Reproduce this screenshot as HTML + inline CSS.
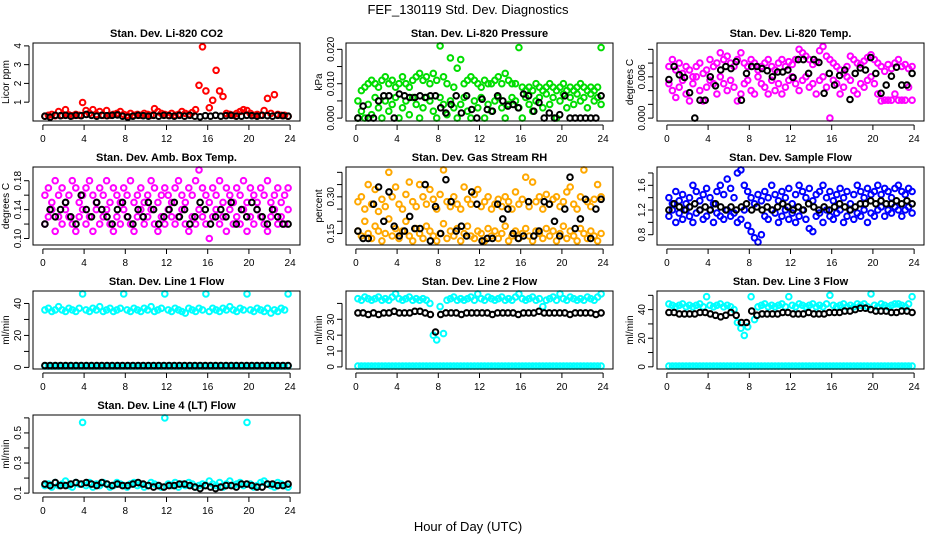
<!DOCTYPE html>
<html><head><meta charset="utf-8"><style>
html,body{margin:0;padding:0;background:#fff;}
svg{display:block;font-family:"Liberation Sans",sans-serif;}
</style></head><body>
<svg id="chart" width="936" height="540" viewBox="0 0 936 540">
<text x="468" y="14" text-anchor="middle" font-size="13">FEF_130119  Std. Dev. Diagnostics</text>
<text x="468" y="531" text-anchor="middle" font-size="13">Hour of Day (UTC)</text>
</svg>
<script>
const xTicks=[0,4,8,12,16,20,24];
const p1Red=[0.25,0.3,0.35,0.28,0.5,0.3,0.6,0.32,0.28,0.35,0.3,0.98,0.55,0.4,0.6,0.35,0.5,0.3,0.55,0.3,0.35,0.4,0.5,0.35,0.3,0.4,0.3,0.35,0.3,0.4,0.35,0.3,0.65,0.5,0.4,0.35,0.3,0.4,0.3,0.35,0.5,0.4,0.35,0.45,0.6,1.9,3.95,1.6,0.7,1.1,2.7,1.6,1.3,0.4,0.35,0.3,0.4,0.5,0.6,0.55,0.4,0.3,0.35,0.3,0.55,1.2,0.4,1.4,0.35,0.3,0.3,0.25];
const p1Black=[0.25,0.2,0.3,0.28,0.3,0.25,0.3,0.28,0.35,0.3,0.25,0.3,0.28,0.3,0.32,0.25,0.2,0.25,0.3,0.28,0.25,0.3,0.25,0.3,0.28,0.25,0.3,0.25,0.3,0.25,0.22,0.28,0.25,0.3,0.25,0.28,0.3,0.25,0.25,0.3,0.28,0.25,0.3,0.28,0.25,0.3,0.28,0.25];
const p2GreenA=[0.005,0.008,0.009,0.01,0.011,0.01,0.009,0.011,0.012,0.01,0.011,0.009,0.01,0.012,0.01,0.009,0.011,0.012,0.013,0.011,0.012,0.01,0.013,0.011,0.021,0.012,0.01,0.0175,0.009,0.0145,0.017,0.01,0.011,0.012,0.011,0.01,0.009,0.011,0.01,0.01,0.011,0.012,0.01,0.013,0.011,0.01,0.01,0.0205,0.009,0.008,0.009,0.008,0.01,0.009,0.008,0.009,0.01,0.009,0.008,0.009,0.01,0.008,0.009,0.008,0.009,0.01,0.009,0.008,0.009,0.008,0.009,0.0205];
const p2GreenB=[0,0.002,0,0.004,0.001,0.006,0.003,0,0.005,0.002,0.004,0.006,0,0.003,0.005,0.001,0.006,0.004,0,0.003,0.006,0.005,0.002,0,0.006,0.004,0.001,0.005,0.003,0,0.004,0.006,0.002,0,0.005,0.003,0.006,0,0.004,0.002,0.005,0.006,0.003,0,0.004,0.006,0.005,0.003,0,0.006,0.004,0.002,0.005,0.006,0.003,0.007,0.004,0.006,0,0.005,0.007,0.003,0.006,0.004,0.007,0.005,0.006,0.003,0.007,0.005,0.006,0.004];
const p2Black=[0,0.0035,0,0,0.005,0.0065,0.0065,0,0.007,0.0065,0.006,0.006,0.0065,0.006,0.0065,0.0065,0.003,0.0015,0.004,0.0065,0.0015,0.0065,0.0025,0,0.0055,0.0025,0.002,0.0065,0.005,0.0035,0.004,0.003,0.007,0.0065,0.002,0.0045,0,0.0015,0,0.001,0.0065,0,0,0,0,0,0,0.0065];
const p3MagA=[0.0075,0.0085,0.007,0.008,0.0065,0.0075,0.007,0.006,0.0075,0.008,0.0065,0.007,0.0085,0.0075,0.008,0.0095,0.0085,0.009,0.008,0.0075,0.0085,0.0095,0.008,0.0075,0.0085,0.008,0.007,0.0075,0.008,0.0085,0.0075,0.007,0.008,0.0085,0.0075,0.0082,0.0078,0.0085,0.01,0.0095,0.009,0.0085,0.0078,0.0082,0.0098,0.0104,0.009,0.0085,0.008,0.0075,0.007,0.0065,0.0075,0.009,0.0085,0.008,0.0078,0.0083,0.0088,0.0092,0.0085,0.008,0.0075,0.0068,0.0078,0.0072,0.008,0.0085,0.0075,0.0078,0.0072,0.0075];
const p3MagB=[0.005,0.004,0.003,0.0045,0.0055,0.0035,0.0025,0.005,0.006,0.004,0.0025,0.0045,0.0055,0.005,0.0035,0.006,0.005,0.004,0.0055,0.0045,0.0025,0.0035,0.005,0.0055,0.004,0.0035,0.006,0.005,0.0045,0.0035,0.0055,0.004,0.005,0.0035,0.0045,0.0055,0.006,0.005,0.004,0.0055,0.006,0.0045,0.005,0.0035,0.0055,0.006,0.0045,0,0.0055,0.005,0.0035,0.0045,0.006,0.0055,0.004,0.0035,0.005,0.0045,0.0055,0.006,0.005,0.0035,0.0025,0.0026,0.0026,0.0026,0.0035,0.0026,0.0026,0.0026,0.0045,0.0026];
const p3Black=[0.0056,0.0075,0.0063,0.0059,0.0037,0,0.0026,0.0026,0.006,0.0047,0.007,0.0075,0.0072,0.0082,0.0026,0.0065,0.0075,0.0075,0.0072,0.0069,0.006,0.0067,0.0067,0.007,0.0059,0.0085,0.0085,0.0065,0.0085,0.0081,0.0036,0.0065,0.0048,0.0062,0.007,0.0027,0.0065,0.0073,0.007,0.0088,0.0065,0.0036,0.0048,0.0061,0.0074,0.0048,0.0048,0.0065];
const p4MagA=[0.16,0.17,0.15,0.18,0.16,0.17,0.15,0.16,0.18,0.17,0.15,0.16,0.17,0.18,0.16,0.15,0.17,0.16,0.18,0.15,0.17,0.16,0.15,0.17,0.16,0.18,0.15,0.16,0.17,0.15,0.16,0.18,0.17,0.15,0.16,0.17,0.16,0.15,0.17,0.18,0.16,0.15,0.17,0.16,0.18,0.195,0.17,0.16,0.15,0.17,0.16,0.18,0.15,0.17,0.16,0.15,0.17,0.16,0.18,0.15,0.17,0.16,0.15,0.17,0.16,0.18,0.15,0.16,0.17,0.15,0.16,0.17];
const p4MagB=[0.12,0.13,0.14,0.11,0.13,0.12,0.14,0.13,0.12,0.11,0.13,0.14,0.12,0.13,0.11,0.14,0.12,0.13,0.14,0.12,0.11,0.13,0.12,0.14,0.13,0.12,0.11,0.13,0.14,0.12,0.13,0.14,0.12,0.11,0.13,0.12,0.14,0.13,0.12,0.13,0.14,0.12,0.11,0.13,0.12,0.14,0.13,0.12,0.1,0.13,0.14,0.12,0.13,0.11,0.14,0.12,0.13,0.12,0.14,0.11,0.13,0.12,0.14,0.13,0.12,0.11,0.13,0.14,0.12,0.13,0.12,0.14];
const p4Black=[0.12,0.14,0.13,0.14,0.15,0.13,0.12,0.16,0.14,0.13,0.15,0.14,0.13,0.12,0.14,0.15,0.13,0.12,0.14,0.13,0.15,0.14,0.12,0.13,0.14,0.15,0.13,0.14,0.12,0.13,0.15,0.14,0.12,0.13,0.14,0.13,0.15,0.12,0.14,0.13,0.15,0.14,0.13,0.12,0.14,0.13,0.12,0.12];
const p5OrgA=[0.28,0.3,0.25,0.35,0.27,0.33,0.24,0.29,0.26,0.4,0.3,0.34,0.27,0.25,0.31,0.36,0.28,0.26,0.35,0.3,0.27,0.33,0.29,0.25,0.31,0.41,0.28,0.26,0.3,0.27,0.25,0.34,0.29,0.27,0.31,0.33,0.26,0.28,0.3,0.25,0.27,0.29,0.26,0.3,0.28,0.25,0.32,0.27,0.29,0.38,0.26,0.36,0.28,0.3,0.25,0.31,0.27,0.29,0.3,0.26,0.28,0.32,0.34,0.27,0.25,0.3,0.41,0.28,0.26,0.29,0.35,0.3];
const p5OrgB=[0.16,0.14,0.2,0.15,0.13,0.18,0.16,0.12,0.15,0.21,0.14,0.17,0.13,0.16,0.2,0.14,0.12,0.17,0.15,0.13,0.18,0.16,0.14,0.12,0.15,0.19,0.13,0.16,0.14,0.17,0.12,0.15,0.18,0.14,0.13,0.16,0.15,0.12,0.17,0.14,0.16,0.13,0.15,0.18,0.12,0.14,0.16,0.13,0.15,0.17,0.14,0.12,0.16,0.15,0.13,0.17,0.14,0.16,0.12,0.15,0.18,0.13,0.16,0.14,0.12,0.17,0.15,0.13,0.16,0.14,0.12,0.15];
const p5Black=[0.16,0.13,0.13,0.27,0.34,0.2,0.32,0.18,0.14,0.16,0.22,0.17,0.17,0.35,0.12,0.26,0.15,0.37,0.28,0.16,0.18,0.14,0.32,0.27,0.12,0.13,0.13,0.27,0.21,0.25,0.15,0.13,0.14,0.28,0.14,0.16,0.28,0.27,0.2,0.14,0.25,0.38,0.17,0.21,0.29,0.13,0.25,0.29];
const p6BlueA=[1.4,1.3,1.5,1.35,1.45,1.3,1.4,1.6,1.5,1.35,1.45,1.55,1.4,1.3,1.5,1.6,1.45,1.7,1.55,1.4,1.8,1.85,1.6,1.5,1.4,1.3,1.45,1.35,1.5,1.4,1.6,1.45,1.35,1.5,1.4,1.55,1.3,1.45,1.6,1.5,1.4,1.55,1.35,1.45,1.5,1.6,1.4,1.5,1.35,1.45,1.55,1.4,1.5,1.3,1.45,1.6,1.5,1.4,1.55,1.45,1.5,1.6,1.45,1.55,1.5,1.4,1.55,1.6,1.5,1.45,1.55,1.5];
const p6BlueB=[1.1,1.2,1.0,1.15,1.05,1.2,1.1,1.0,1.15,1.2,1.05,1.1,1.2,1.0,1.15,1.1,1.05,1.2,1.1,1.15,1.0,1.05,1.2,0.95,0.85,0.75,0.68,0.8,1.1,1.05,1.2,1.15,1.0,1.1,1.2,1.05,1.15,1.0,1.1,1.2,1.05,0.9,0.85,1.1,1.15,1.0,1.2,1.1,1.05,1.15,1.2,1.0,1.1,1.2,1.05,1.15,1.1,1.2,1.0,1.15,1.1,1.2,1.25,1.1,1.2,1.15,1.25,1.2,1.1,1.2,1.25,1.15];
const p6Black=[1.2,1.3,1.25,1.2,1.25,1.3,1.2,1.25,1.2,1.3,1.25,1.2,1.25,1.2,1.25,1.3,1.2,1.25,1.2,1.25,1.2,1.25,1.3,1.25,1.2,1.25,1.2,1.3,1.25,1.2,1.25,1.2,1.25,1.3,1.25,1.2,1.25,1.3,1.3,1.35,1.3,1.35,1.3,1.3,1.35,1.3,1.35,1.3];
const p7CyanA=[36,37,35,36,38,36,35,37,36,35,37,46,36,35,37,36,38,35,36,37,35,36,37,46,36,35,37,36,35,37,36,38,35,36,37,46,36,35,37,36,35,34,37,36,35,37,36,46,35,37,36,35,37,36,38,36,35,37,36,46,36,35,37,36,35,37,34,36,35,37,36,46];
const p7CyanB=[0.8,0.8,0.8,0.8,0.8,0.8,0.8,0.8,0.8,0.8,0.8,0.8,0.8,0.8,0.8,0.8,0.8,0.8,0.8,0.8,0.8,0.8,0.8,0.8,0.8,0.8,0.8,0.8,0.8,0.8,0.8,0.8,0.8,0.8,0.8,0.8,0.8,0.8,0.8,0.8,0.8,0.8,0.8,0.8,0.8,0.8,0.8,0.8,0.8,0.8,0.8,0.8,0.8,0.8,0.8,0.8,0.8,0.8,0.8,0.8,0.8,0.8,0.8,0.8,0.8,0.8,0.8,0.8,0.8,0.8,0.8,0.8];
const p7Black=[1.2,1.2,1.2,1.2,1.2,1.2,1.2,1.2,1.2,1.2,1.2,1.2,1.2,1.2,1.2,1.2,1.2,1.2,1.2,1.2,1.2,1.2,1.2,1.2,1.2,1.2,1.2,1.2,1.2,1.2,1.2,1.2,1.2,1.2,1.2,1.2,1.2,1.2,1.2,1.2,1.2,1.2,1.2,1.2,1.2,1.2,1.2,1.2];
const p8CyanA=[43,42,44,43,42,43,44,42,43,42,44,46,43,42,43,44,42,43,42,43,42,40,20,17,38,21,42,43,44,42,43,42,43,44,42,46,43,42,44,43,42,43,44,42,43,42,44,46,43,42,43,44,42,43,38,42,43,44,42,46,43,42,44,43,42,43,42,44,43,42,44,46];
const p8CyanB=[0.5,0.5,0.5,0.5,0.5,0.5,0.5,0.5,0.5,0.5,0.5,0.5,0.5,0.5,0.5,0.5,0.5,0.5,0.5,0.5,0.5,0.5,0.5,0.5,0.5,0.5,0.5,0.5,0.5,0.5,0.5,0.5,0.5,0.5,0.5,0.5,0.5,0.5,0.5,0.5,0.5,0.5,0.5,0.5,0.5,0.5,0.5,0.5,0.5,0.5,0.5,0.5,0.5,0.5,0.5,0.5,0.5,0.5,0.5,0.5,0.5,0.5,0.5,0.5,0.5,0.5,0.5,0.5,0.5,0.5,0.5,0.5];
const p8Black=[34,34,33,34,33,34,34,35,34,34,34,35,35,34,33,22,33,34,34,34,33,34,34,34,34,34,33,34,34,34,34,33,34,34,34,35,34,34,34,34,34,33,34,34,34,34,33,34];
const p9CyanA=[44,43,42,43,44,42,43,42,43,44,42,49,43,42,43,44,42,43,42,40,31,27,22,28,49,33,42,43,44,42,43,42,43,44,42,49,43,42,44,43,42,43,44,42,43,42,44,50,43,42,43,44,42,43,42,44,43,44,42,51,43,42,44,43,42,43,44,44,43,42,44,49];
const p9CyanB=[0.5,0.5,0.5,0.5,0.5,0.5,0.5,0.5,0.5,0.5,0.5,0.5,0.5,0.5,0.5,0.5,0.5,0.5,0.5,0.5,0.5,0.5,0.5,0.5,0.5,0.5,0.5,0.5,0.5,0.5,0.5,0.5,0.5,0.5,0.5,0.5,0.5,0.5,0.5,0.5,0.5,0.5,0.5,0.5,0.5,0.5,0.5,0.5,0.5,0.5,0.5,0.5,0.5,0.5,0.5,0.5,0.5,0.5,0.5,0.5,0.5,0.5,0.5,0.5,0.5,0.5,0.5,0.5,0.5,0.5,0.5,0.5];
const p9Black=[38,38,37,37,37,37,38,38,37,36,35,36,38,36,31,31,39,36,37,37,37,37,38,38,37,37,37,38,37,37,37,38,38,38,39,39,40,41,41,40,39,39,39,38,38,39,39,38];
const p10CyanA=[0.15,0.16,0.14,0.17,0.15,0.16,0.18,0.15,0.14,0.17,0.16,0.57,0.15,0.17,0.14,0.16,0.15,0.17,0.16,0.14,0.15,0.17,0.16,0.15,0.14,0.16,0.17,0.15,0.16,0.14,0.15,0.17,0.16,0.15,0.14,0.6,0.16,0.15,0.17,0.14,0.16,0.15,0.17,0.16,0.14,0.15,0.16,0.15,0.18,0.16,0.15,0.17,0.14,0.16,0.18,0.15,0.16,0.17,0.15,0.57,0.16,0.14,0.15,0.17,0.18,0.16,0.15,0.14,0.17,0.16,0.15,0.14];
const p10Black=[0.16,0.15,0.17,0.15,0.15,0.16,0.17,0.16,0.17,0.16,0.15,0.17,0.16,0.15,0.16,0.15,0.15,0.16,0.17,0.16,0.15,0.14,0.15,0.14,0.15,0.15,0.16,0.16,0.15,0.14,0.13,0.15,0.14,0.13,0.14,0.15,0.15,0.14,0.16,0.16,0.15,0.14,0.14,0.16,0.16,0.15,0.15,0.16];

const NS='http://www.w3.org/2000/svg';
const svg=document.getElementById('chart');
function mk(tag,attrs,parent){const e=document.createElementNS(NS,tag);for(const k in attrs)e.setAttribute(k,attrs[k]);(parent||svg).appendChild(e);return e;}
const colLeft=[33,346,657],rowTop=[43,167,291,415],W=267,H=78;
const panels=[
{t:'Stan. Dev. Li-820 CO2',yl:'Licor ppm',lo:0.15,hi:4,ticks:[1,2,3,4],labs:[1,2,3,4],s:[[p1Red,'#ff0000'],[p1Black,'#000']],slug:'co2'},
{t:'Stan. Dev. Li-820 Pressure',yl:'kPa',lo:0,hi:0.021,ticks:[0,0.005,0.01,0.015,0.02],labs:['0.000',null,'0.010',null,'0.020'],s:[[p2GreenA,'#00dd00'],[p2GreenB,'#00dd00'],[p2Black,'#000']],slug:'pressure'},
{t:'Stan. Dev. Li-820 Temp.',yl:'degrees C',lo:0,hi:0.0105,ticks:[0,0.002,0.004,0.006,0.008,0.01],labs:['0.000',null,null,'0.006',null,null],s:[[p3MagA,'#ff00ff'],[p3MagB,'#ff00ff'],[p3Black,'#000']],slug:'licor-temp'},
{t:'Stan. Dev. Amb. Box Temp.',yl:'degrees C',lo:0.095,hi:0.195,ticks:[0.1,0.12,0.14,0.16,0.18],labs:['0.10',null,'0.14',null,'0.18'],s:[[p4MagA,'#ff00ff'],[p4MagB,'#ff00ff'],[p4Black,'#000']],slug:'box-temp'},
{t:'Stan. Dev. Gas Stream RH',yl:'percent',lo:0.115,hi:0.41,ticks:[0.15,0.2,0.25,0.3,0.35,0.4],labs:['0.15',null,null,'0.30',null,null],s:[[p5OrgA,'#ffa800'],[p5OrgB,'#ffa800'],[p5Black,'#000']],slug:'rh'},
{t:'Stan. Dev. Sample Flow',yl:'',lo:0.68,hi:1.85,ticks:[0.8,1.0,1.2,1.4,1.6,1.8],labs:['0.8',null,'1.2',null,'1.6',null],s:[[p6BlueA,'#0000ff'],[p6BlueB,'#0000ff'],[p6Black,'#000']],slug:'sample-flow'},
{t:'Stan. Dev. Line 1 Flow',yl:'ml/min',lo:0.8,hi:46,ticks:[0,10,20,30,40],labs:['0',null,'20',null,'40'],s:[[p7CyanA,'#00ffff'],[p7CyanB,'#00ffff'],[p7Black,'#000']],slug:'line1'},
{t:'Stan. Dev. Line 2 Flow',yl:'ml/min',lo:0.5,hi:46,ticks:[0,10,20,30,40],labs:['0','10','20','30',null],s:[[p8CyanA,'#00ffff'],[p8CyanB,'#00ffff'],[p8Black,'#000']],slug:'line2'},
{t:'Stan. Dev. Line 3 Flow',yl:'ml/min',lo:0.5,hi:51,ticks:[0,10,20,30,40,50],labs:['0',null,'20',null,'40',null],s:[[p9CyanA,'#00ffff'],[p9CyanB,'#00ffff'],[p9Black,'#000']],slug:'line3'},
{t:'Stan. Dev. Line 4 (LT) Flow',yl:'ml/min',lo:0.12,hi:0.6,ticks:[0.1,0.2,0.3,0.4,0.5,0.6],labs:['0.1',null,'0.3',null,'0.5',null],s:[[p10CyanA,'#00ffff'],[p10Black,'#000']],slug:'line4'}
];
panels.forEach((p,i)=>{
  const L=colLeft[i%3],T=rowTop[Math.floor(i/3)];
  const g=mk('g',{});
  
  
  const x0=-0.96,x1=24.96;
  const pad=(p.hi-p.lo)*0.04,y0=p.lo-pad,y1=p.hi+pad;
  const sx=v=>L+(v-x0)/(x1-x0)*W;
  const sy=v=>T+H-(v-y0)/(y1-y0)*H;
  const title=mk('text',{x:L+W/2,y:T-6,'text-anchor':'middle','font-size':'11','font-weight':'bold'},g);
  title.textContent=p.t;
  
  
  if(p.yl){const yt=mk('text',{transform:`translate(${L-24},${T+H/2}) rotate(-90)`,'text-anchor':'middle','font-size':'10'},g);
    yt.textContent=p.yl;
    
    }
  p.s.forEach(([arr,col])=>{
    const n=arr.length;
    arr.forEach((v,k)=>{
      const t=0.2+k*23.6/(n-1);
      const c=mk('circle',{cx:sx(t).toFixed(1),cy:sy(v).toFixed(1),r:2.8,fill:'none',stroke:col,'stroke-width':2},g);
      
      
    });
  });
  const box=mk('rect',{x:L,y:T,width:W,height:H,fill:'none',stroke:'#000','stroke-width':1},g);
  
  
  mk('line',{x1:sx(0),x2:sx(24),y1:T+H+4,y2:T+H+4,stroke:'#000'},g);
  xTicks.forEach(v=>{
    mk('line',{x1:sx(v),x2:sx(v),y1:T+H+4,y2:T+H+9,stroke:'#000'},g);
    const tx=mk('text',{x:sx(v),y:T+H+21,'text-anchor':'middle','font-size':'10'},g);
    tx.textContent=v;
    
    
  });
  mk('line',{x1:L-4,x2:L-4,y1:sy(p.ticks[0]),y2:sy(p.ticks[p.ticks.length-1]),stroke:'#000'},g);
  p.ticks.forEach((v,k)=>{
    mk('line',{x1:L-9,x2:L-4,y1:sy(v),y2:sy(v),stroke:'#000'},g);
    if(p.labs[k]!==null){
      const ty=mk('text',{transform:`translate(${L-12},${sy(v)}) rotate(-90)`,'text-anchor':'middle','font-size':'10'},g);
      ty.textContent=p.labs[k];
      
      
    }
  });
});
</script>
</body></html>
